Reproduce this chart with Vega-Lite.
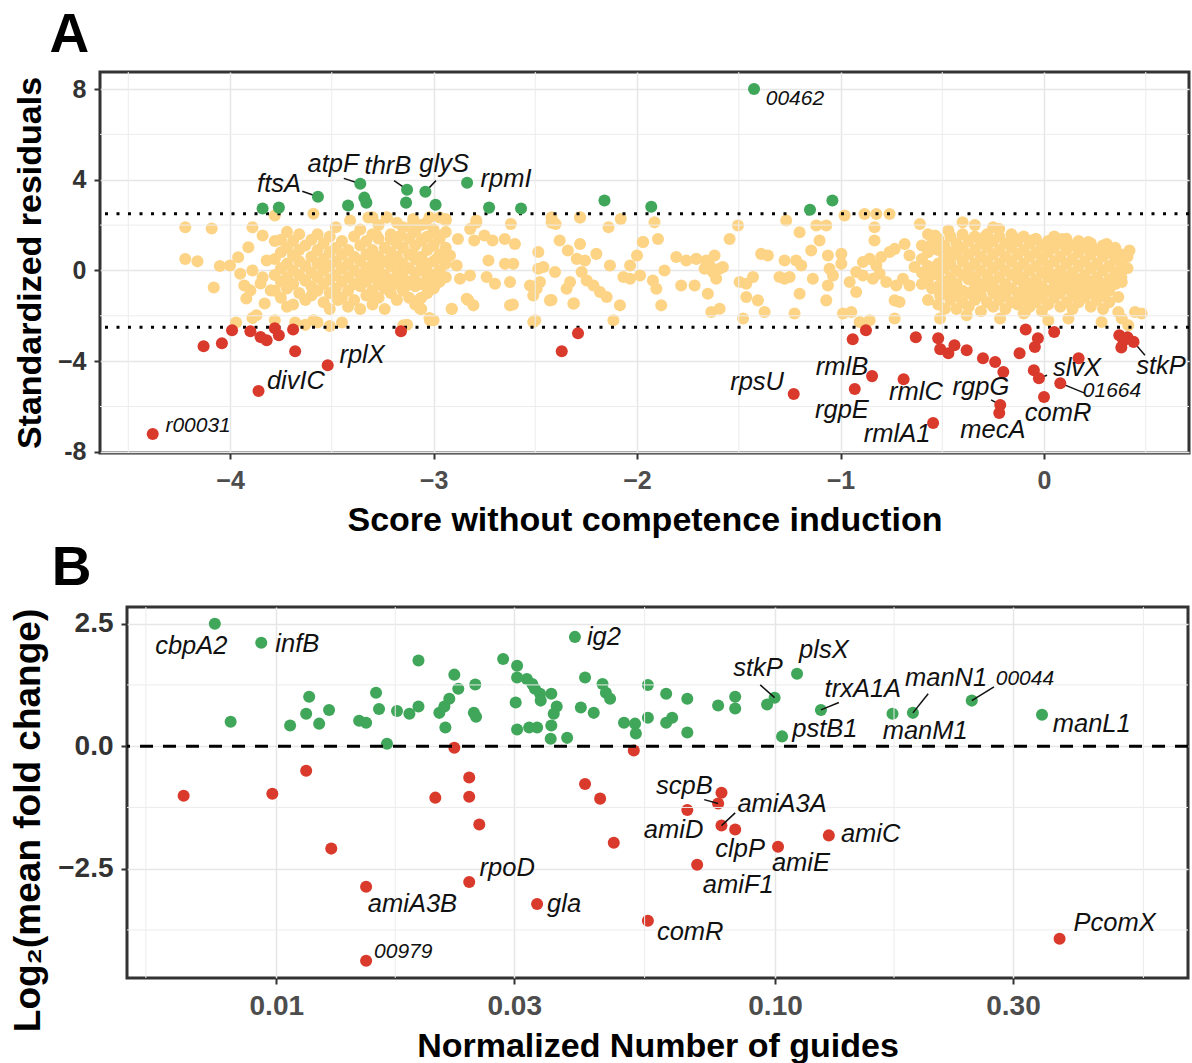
{
"$schema":"https://vega.github.io/schema/vega-lite/v6.json",
"background":"white",
"padding":{"left":4,"top":6,"right":0,"bottom":0},
"config":{
 "font":"Liberation Sans",
 "view":{"stroke":"#333333","strokeWidth":3},
 "axis":{"labelFont":"Liberation Sans","labelFontWeight":"bold","labelFontSize":25,"titleFont":"Liberation Sans","titleFontWeight":"bold","titleFontSize":34,"titleColor":"black","tickColor":"#333333","tickSize":6,"tickWidth":2,"domain":false,"gridColor":"#e6e6e6","gridWidth":1.5},
 "title":{"anchor":"start","frame":"bounds","fontSize":55,"fontWeight":"bold","font":"Liberation Sans","color":"black"}
},
"datasets":{
 "aPts":[
  {"x":-3.568,"y":3.25,"c":"up"},{"x":-3.84,"y":2.73,"c":"up"},{"x":-3.76,"y":2.77,"c":"up"},{"x":-3.36,"y":3.82,"c":"up"},{"x":-3.42,"y":2.86,"c":"up"},{"x":-3.34,"y":3.21,"c":"up"},{"x":-3.33,"y":2.99,"c":"up"},{"x":-3.13,"y":3.56,"c":"up"},{"x":-3.135,"y":2.99,"c":"up"},{"x":-3.04,"y":3.47,"c":"up"},{"x":-2.99,"y":2.9,"c":"up"},{"x":-2.835,"y":3.87,"c":"up"},{"x":-2.727,"y":2.77,"c":"up"},{"x":-2.57,"y":2.73,"c":"up"},{"x":-2.16,"y":3.08,"c":"up"},{"x":-1.93,"y":2.81,"c":"up"},{"x":-1.425,"y":8.0,"c":"up"},{"x":-1.15,"y":2.68,"c":"up"},{"x":-1.04,"y":3.08,"c":"up"},
  {"x":-4.38,"y":-7.21,"c":"down"},{"x":-4.13,"y":-3.34,"c":"down"},{"x":-4.04,"y":-3.21,"c":"down"},{"x":-3.99,"y":-2.64,"c":"down"},{"x":-3.9,"y":-2.68,"c":"down"},{"x":-3.85,"y":-2.94,"c":"down"},{"x":-3.82,"y":-3.08,"c":"down"},{"x":-3.78,"y":-2.55,"c":"down"},{"x":-3.76,"y":-2.86,"c":"down"},{"x":-3.69,"y":-2.6,"c":"down"},{"x":-3.68,"y":-3.56,"c":"down"},{"x":-3.86,"y":-5.32,"c":"down"},{"x":-3.52,"y":-4.18,"c":"down"},{"x":-3.16,"y":-2.68,"c":"down"},{"x":-2.37,"y":-3.56,"c":"down"},{"x":-2.29,"y":-2.77,"c":"down"},
  {"x":-1.23,"y":-5.45,"c":"down"},{"x":-0.94,"y":-3.03,"c":"down"},{"x":-0.875,"y":-2.64,"c":"down"},{"x":-0.845,"y":-4.66,"c":"down"},{"x":-0.93,"y":-5.23,"c":"down"},{"x":-0.69,"y":-4.8,"c":"down"},{"x":-0.545,"y":-6.73,"c":"down"},{"x":-0.63,"y":-2.95,"c":"down"},{"x":-0.52,"y":-2.99,"c":"down"},{"x":-0.51,"y":-3.47,"c":"down"},{"x":-0.47,"y":-3.65,"c":"down"},{"x":-0.44,"y":-3.3,"c":"down"},{"x":-0.38,"y":-3.52,"c":"down"},{"x":-0.3,"y":-3.87,"c":"down"},{"x":-0.24,"y":-4.04,"c":"down"},{"x":-0.2,"y":-4.48,"c":"down"},{"x":-0.215,"y":-5.93,"c":"down"},{"x":-0.22,"y":-6.29,"c":"down"},{"x":-0.12,"y":-3.65,"c":"down"},{"x":-0.09,"y":-2.6,"c":"down"},{"x":-0.045,"y":-3.38,"c":"down"},{"x":-0.03,"y":-2.99,"c":"down"},{"x":-0.05,"y":-4.4,"c":"down"},{"x":-0.025,"y":-4.75,"c":"down"},{"x":0.05,"y":-2.71,"c":"down"},{"x":0.0,"y":-5.58,"c":"down"},{"x":0.08,"y":-4.97,"c":"down"},{"x":0.17,"y":-3.87,"c":"down"},{"x":0.37,"y":-2.86,"c":"down"},{"x":0.39,"y":-3.1,"c":"down"},{"x":0.38,"y":-3.4,"c":"down"},{"x":0.41,"y":-2.95,"c":"down"},{"x":0.44,"y":-3.15,"c":"down"}
 ],
 "aYel":[
  {"x":-4.22,"y":1.9},{"x":-4.09,"y":1.85},{"x":-4.22,"y":0.5},{"x":-4.16,"y":0.4},{"x":-4.08,"y":-0.75},{"x":-4.05,"y":0.2},
  {"x":-4.0,"y":0.22},{"x":-3.96,"y":0.58},{"x":-3.91,"y":1.02},{"x":-3.89,"y":1.9},{"x":-3.84,"y":1.54},{"x":-3.93,"y":-0.66},{"x":-3.92,"y":-1.24},{"x":-3.87,"y":-1.98},{"x":-3.89,"y":0.0},{"x":-3.84,"y":-0.3},{"x":-3.82,"y":0.44},{"x":-3.95,"y":-0.15},{"x":-3.9,"y":-0.88},{"x":-3.85,"y":-0.58},{"x":-3.8,"y":-0.88},{"x":-3.83,"y":-1.46},
  {"x":-3.97,"y":-2.3},{"x":-3.89,"y":-2.1},{"x":-3.78,"y":-2.2},{"x":-3.68,"y":-2.3},{"x":-3.59,"y":-2.2},{"x":-3.51,"y":-2.45},{"x":-3.45,"y":-2.3},{"x":-3.13,"y":-2.4},{"x":-3.02,"y":-2.1},{"x":-2.5,"y":-2.2},
  {"x":-3.47,"y":-1.3},{"x":-3.36,"y":-1.7},{"x":-3.06,"y":-1.2},{"x":-2.91,"y":-1.7},{"x":-2.83,"y":-1.3},{"x":-2.61,"y":-1.5},{"x":-2.42,"y":-1.3},{"x":-2.31,"y":-1.45},
  {"x":-3.78,"y":2.42},{"x":-3.59,"y":2.5},{"x":-3.41,"y":2.2},{"x":-3.32,"y":2.33},{"x":-3.23,"y":2.33},{"x":-3.1,"y":2.1},{"x":-3.04,"y":2.07},{"x":-2.97,"y":2.33},{"x":-2.94,"y":2.2},{"x":-2.79,"y":2.1},{"x":-2.42,"y":2.1},{"x":-2.28,"y":2.33},
  {"x":-3.78,"y":1.3},{"x":-3.78,"y":0.5},{"x":-3.78,"y":-0.2},{"x":-3.78,"y":-0.9},
  {"x":-3.75,"y":1.35},{"x":-3.75,"y":0.8},{"x":-3.75,"y":0.1},{"x":-3.75,"y":-0.5},{"x":-3.75,"y":-1.2},
  {"x":-3.72,"y":1.7},{"x":-3.72,"y":1.0},{"x":-3.72,"y":0.3},{"x":-3.72,"y":-0.3},{"x":-3.72,"y":-0.8},{"x":-3.72,"y":-1.6},
  {"x":-3.69,"y":1.3},{"x":-3.69,"y":0.66},{"x":-3.69,"y":0.0},{"x":-3.69,"y":-0.6},{"x":-3.69,"y":-1.5},
  {"x":-3.66,"y":1.6},{"x":-3.66,"y":0.9},{"x":-3.66,"y":0.4},{"x":-3.66,"y":-0.2},{"x":-3.66,"y":-1.0},
  {"x":-3.63,"y":1.1},{"x":-3.63,"y":0.2},{"x":-3.63,"y":-0.45},{"x":-3.63,"y":-1.3},{"x":-3.63,"y":-2.4},
  {"x":-3.6,"y":1.35},{"x":-3.6,"y":0.6},{"x":-3.6,"y":-0.1},{"x":-3.6,"y":-0.7},{"x":-3.6,"y":-1.1},
  {"x":-3.57,"y":1.6},{"x":-3.57,"y":0.9},{"x":-3.57,"y":0.3},{"x":-3.57,"y":-0.3},{"x":-3.57,"y":-0.9},{"x":-3.57,"y":-2.3},
  {"x":-3.54,"y":1.2},{"x":-3.54,"y":0.5},{"x":-3.54,"y":0.0},{"x":-3.54,"y":-0.6},{"x":-3.54,"y":-1.4},
  {"x":-3.51,"y":1.5},{"x":-3.51,"y":0.8},{"x":-3.51,"y":0.2},{"x":-3.51,"y":-0.4},{"x":-3.51,"y":-1.0},{"x":-3.51,"y":-1.7},
  {"x":-3.48,"y":1.9},{"x":-3.48,"y":1.0},{"x":-3.48,"y":0.4},{"x":-3.48,"y":-0.2},{"x":-3.48,"y":-0.8},
  {"x":-3.45,"y":1.3},{"x":-3.45,"y":0.7},{"x":-3.45,"y":0.1},{"x":-3.45,"y":-0.5},{"x":-3.45,"y":-1.2},
  {"x":-3.42,"y":0.9},{"x":-3.42,"y":0.3},{"x":-3.42,"y":-0.3},{"x":-3.42,"y":-0.9},{"x":-3.42,"y":-1.6},
  {"x":-3.39,"y":1.5},{"x":-3.39,"y":0.6},{"x":-3.39,"y":0.0},{"x":-3.39,"y":-0.6},{"x":-3.39,"y":-1.3},
  {"x":-3.36,"y":1.8},{"x":-3.36,"y":1.1},{"x":-3.36,"y":0.4},{"x":-3.36,"y":-0.2},{"x":-3.36,"y":-0.7},
  {"x":-3.33,"y":1.3},{"x":-3.33,"y":0.7},{"x":-3.33,"y":0.1},{"x":-3.33,"y":-0.5},{"x":-3.33,"y":-1.1},
  {"x":-3.3,"y":1.6},{"x":-3.3,"y":0.9},{"x":-3.3,"y":0.3},{"x":-3.3,"y":-0.3},{"x":-3.3,"y":-0.9},{"x":-3.3,"y":-1.5},
  {"x":-3.27,"y":2.0},{"x":-3.27,"y":1.4},{"x":-3.27,"y":0.6},{"x":-3.27,"y":0.0},{"x":-3.27,"y":-0.6},{"x":-3.27,"y":-1.2},
  {"x":-3.24,"y":1.0},{"x":-3.24,"y":0.4},{"x":-3.24,"y":-0.2},{"x":-3.24,"y":-0.8},{"x":-3.24,"y":-1.7},
  {"x":-3.21,"y":1.6},{"x":-3.21,"y":0.8},{"x":-3.21,"y":0.2},{"x":-3.21,"y":-0.4},{"x":-3.21,"y":-1.0},
  {"x":-3.18,"y":2.1},{"x":-3.18,"y":1.2},{"x":-3.18,"y":0.6},{"x":-3.18,"y":0.0},{"x":-3.18,"y":-0.6},{"x":-3.18,"y":-1.3},
  {"x":-3.15,"y":1.9},{"x":-3.15,"y":1.0},{"x":-3.15,"y":0.3},{"x":-3.15,"y":-0.3},{"x":-3.15,"y":-0.9},
  {"x":-3.12,"y":1.4},{"x":-3.12,"y":0.7},{"x":-3.12,"y":0.1},{"x":-3.12,"y":-0.5},{"x":-3.12,"y":-1.2},
  {"x":-3.09,"y":1.7},{"x":-3.09,"y":1.1},{"x":-3.09,"y":0.5},{"x":-3.09,"y":-0.1},{"x":-3.09,"y":-0.7},{"x":-3.09,"y":-1.5},
  {"x":-3.06,"y":2.0},{"x":-3.06,"y":1.3},{"x":-3.06,"y":0.6},{"x":-3.06,"y":0.0},{"x":-3.06,"y":-0.6},{"x":-3.06,"y":-1.7},
  {"x":-3.03,"y":1.5},{"x":-3.03,"y":0.9},{"x":-3.03,"y":0.3},{"x":-3.03,"y":-0.3},{"x":-3.03,"y":-1.0},
  {"x":-3.0,"y":1.8},{"x":-3.0,"y":1.1},{"x":-3.0,"y":0.4},{"x":-3.0,"y":-0.2},{"x":-3.0,"y":-0.8},{"x":-3.0,"y":-2.2},
  {"x":-2.97,"y":1.4},{"x":-2.97,"y":0.7},{"x":-2.97,"y":0.0},{"x":-2.97,"y":-0.5},
  {"x":-2.94,"y":1.0},{"x":-2.94,"y":0.3},{"x":-2.94,"y":-0.3},
  {"x":-3.3,"y":2.34},{"x":-3.23,"y":2.34},{"x":-3.1,"y":2.27},{"x":-3.02,"y":2.34},{"x":-2.94,"y":2.27},{"x":-2.79,"y":2.2},{"x":-2.62,"y":2.05},{"x":-2.42,"y":2.34},{"x":-2.4,"y":2.05},{"x":-2.28,"y":2.34},{"x":-2.14,"y":1.9},{"x":-2.08,"y":2.27},
  {"x":-3.28,"y":1.54},{"x":-3.21,"y":1.39},{"x":-3.16,"y":1.54},{"x":-3.1,"y":1.69},{"x":-3.05,"y":1.39},{"x":-2.98,"y":1.54},{"x":-2.94,"y":1.69},{"x":-2.88,"y":1.39},{"x":-2.82,"y":1.83},{"x":-2.8,"y":1.32},{"x":-2.75,"y":1.54},{"x":-2.71,"y":1.32},{"x":-2.65,"y":1.39},{"x":-2.6,"y":1.17},{"x":-2.38,"y":1.32},{"x":-2.34,"y":0.88},{"x":-2.28,"y":1.17},{"x":-2.2,"y":0.73},{"x":-2.0,"y":0.66},{"x":-1.97,"y":1.25},
  {"x":-3.296,"y":0.66},{"x":-3.246,"y":0.37},{"x":-3.197,"y":0.51},{"x":-3.148,"y":0.22},{"x":-3.099,"y":0.66},{"x":-3.066,"y":0.37},{"x":-3.034,"y":0.07},{"x":-2.984,"y":0.51},{"x":-2.919,"y":0.66},{"x":-2.886,"y":0.22},{"x":-2.73,"y":0.44},{"x":-2.649,"y":0.29},{"x":-2.608,"y":0.29},{"x":-2.485,"y":0.81},{"x":-2.485,"y":0.07},{"x":-2.46,"y":0.15},{"x":-2.403,"y":-0.07},{"x":-2.296,"y":0.51},{"x":-2.256,"y":0.44},{"x":-2.272,"y":-0.07},{"x":-2.133,"y":0.22},{"x":-2.067,"y":-0.29},{"x":-2.034,"y":0.22},{"x":-1.985,"y":-0.22},
  {"x":-3.312,"y":-0.22},{"x":-3.263,"y":-0.51},{"x":-3.214,"y":-0.66},{"x":-3.165,"y":-0.37},{"x":-3.132,"y":-0.66},{"x":-3.083,"y":-0.51},{"x":-3.034,"y":-0.66},{"x":-2.993,"y":-0.66},{"x":-2.87,"y":-0.37},{"x":-2.821,"y":-0.22},{"x":-2.739,"y":-0.29},{"x":-2.698,"y":-0.59},{"x":-2.624,"y":-0.51},{"x":-2.526,"y":-0.66},{"x":-2.51,"y":-1.1},{"x":-2.493,"y":-0.81},{"x":-2.477,"y":-0.51},{"x":-2.346,"y":-0.81},{"x":-2.329,"y":-0.51},{"x":-2.247,"y":-0.44},{"x":-2.214,"y":-0.66},{"x":-2.182,"y":-0.95},{"x":-2.149,"y":-1.17},{"x":-2.034,"y":-0.37},
  {"x":-3.312,"y":-1.1},{"x":-3.066,"y":-1.25},{"x":-3.066,"y":-1.69},{"x":-2.911,"y":-1.69},{"x":-2.837,"y":-1.25},{"x":-2.804,"y":-1.54},{"x":-2.624,"y":-1.54},{"x":-2.51,"y":-2.27},{"x":-2.428,"y":-1.32},{"x":-2.313,"y":-1.47},{"x":-2.084,"y":-1.54},{"x":-2.116,"y":-2.2},{"x":-3.017,"y":-2.2},{"x":-3.148,"y":-2.42},
  {"x":-1.914,"y":2.12},{"x":-1.897,"y":1.39},{"x":-1.971,"y":1.25},{"x":-1.865,"y":0.0},{"x":-1.922,"y":-0.44},{"x":-1.905,"y":-0.81},{"x":-1.881,"y":-1.54},{"x":-1.807,"y":0.59},{"x":-1.758,"y":0.44},{"x":-1.709,"y":0.51},{"x":-1.66,"y":0.44},{"x":-1.783,"y":-0.66},{"x":-1.717,"y":-0.66},{"x":-1.668,"y":0.07},{"x":-1.643,"y":0.22},{"x":-1.619,"y":0.66},{"x":-1.594,"y":0.07},{"x":-1.652,"y":-1.03},{"x":-1.635,"y":-1.83},{"x":-1.594,"y":-1.69},{"x":-1.627,"y":-0.07},{"x":-1.611,"y":-0.37},{"x":-1.578,"y":0.15},{"x":-1.545,"y":1.39},{"x":-1.504,"y":1.98},{"x":-1.496,"y":-0.51},{"x":-1.463,"y":-0.59},{"x":-1.43,"y":-0.29},{"x":-1.479,"y":-2.12},{"x":-1.463,"y":-1.17},{"x":-1.406,"y":-1.32},{"x":-1.373,"y":-1.83},{"x":-1.39,"y":0.73},{"x":-1.357,"y":0.66},{"x":-1.3,"y":-0.29},{"x":-1.275,"y":-0.37},{"x":-1.25,"y":-0.29},{"x":-1.275,"y":0.44},{"x":-1.218,"y":0.44},{"x":-1.193,"y":0.22},{"x":-1.267,"y":2.2},{"x":-1.201,"y":1.68},{"x":-1.226,"y":-1.9},{"x":-1.201,"y":-1.03},{"x":-1.144,"y":0.88},{"x":-1.103,"y":1.32},{"x":-1.119,"y":1.98},{"x":-1.07,"y":1.98},{"x":-1.062,"y":0.66},{"x":-1.136,"y":-0.37},{"x":-1.07,"y":-1.32},{"x":-1.054,"y":0.07},{"x":-1.037,"y":-0.22},{"x":-1.062,"y":-0.66},{"x":-0.996,"y":0.73},{"x":-0.996,"y":0.29},{"x":-0.98,"y":2.42},{"x":-0.988,"y":-1.9},{"x":-0.947,"y":-1.83},{"x":-0.955,"y":-0.51},{"x":-0.923,"y":-0.95},{"x":-0.882,"y":2.49},{"x":-0.824,"y":2.49},{"x":-0.759,"y":2.49},{"x":-0.833,"y":1.9},{"x":-0.833,"y":1.32},
  {"x":-0.923,"y":-0.07},{"x":-0.89,"y":0.37},{"x":-0.857,"y":0.51},{"x":-0.824,"y":0.22},{"x":-0.8,"y":0.59},{"x":-0.759,"y":0.81},{"x":-0.734,"y":0.95},{"x":-0.685,"y":1.17},{"x":-0.661,"y":0.66},{"x":-0.636,"y":0.15},{"x":-0.89,"y":-0.22},{"x":-0.841,"y":-0.37},{"x":-0.808,"y":-0.15},{"x":-0.775,"y":-0.51},{"x":-0.726,"y":-0.66},{"x":-0.693,"y":-0.37},{"x":-0.661,"y":-0.66},{"x":-0.734,"y":-1.32},{"x":-0.71,"y":-1.39},{"x":-0.734,"y":-2.12},{"x":-0.906,"y":-2.27},{"x":-0.857,"y":-2.2},
  {"x":-0.61,"y":2.05},{"x":-0.47,"y":1.76},{"x":-0.4,"y":2.12},{"x":-0.22,"y":1.83},{"x":-0.29,"y":1.47},{"x":0.087,"y":1.39},{"x":0.218,"y":1.25},{"x":0.42,"y":0.88},{"x":0.308,"y":1.17},{"x":-0.06,"y":1.32},{"x":-0.14,"y":1.39},{"x":-0.536,"y":1.54},
  {"x":-0.511,"y":-1.1},{"x":-0.446,"y":-0.88},{"x":-0.487,"y":-1.69},{"x":-0.511,"y":-2.12},{"x":-0.38,"y":-1.98},{"x":-0.216,"y":-2.12},{"x":-0.093,"y":-1.83},{"x":0.021,"y":-2.2},{"x":0.12,"y":-2.12},{"x":0.283,"y":-2.27},{"x":0.365,"y":-1.83},{"x":0.382,"y":-0.51},{"x":0.365,"y":-1.17},{"x":0.447,"y":-1.83},{"x":0.48,"y":-1.9},{"x":0.382,"y":-2.12},{"x":0.414,"y":-2.42},
  {"x":-0.6,"y":1.1},{"x":-0.6,"y":0.5},{"x":-0.6,"y":-0.1},{"x":-0.6,"y":-0.6},
  {"x":-0.57,"y":1.6},{"x":-0.57,"y":0.8},{"x":-0.57,"y":0.2},{"x":-0.57,"y":-0.4},{"x":-0.57,"y":-1.3},
  {"x":-0.55,"y":1.2},{"x":-0.55,"y":0.0},{"x":-0.55,"y":-0.8},
  {"x":-0.52,"y":1.4},{"x":-0.52,"y":0.9},{"x":-0.52,"y":0.3},{"x":-0.52,"y":-0.2},{"x":-0.52,"y":-0.7},{"x":-0.52,"y":-1.5},
  {"x":-0.49,"y":1.1},{"x":-0.49,"y":0.6},{"x":-0.49,"y":0.1},{"x":-0.49,"y":-0.5},{"x":-0.49,"y":-1.0},
  {"x":-0.46,"y":1.5},{"x":-0.46,"y":0.8},{"x":-0.46,"y":0.3},{"x":-0.46,"y":-0.3},{"x":-0.46,"y":-0.8},{"x":-0.46,"y":-1.3},
  {"x":-0.43,"y":1.2},{"x":-0.43,"y":0.7},{"x":-0.43,"y":0.0},{"x":-0.43,"y":-0.6},{"x":-0.43,"y":-1.1},{"x":-0.43,"y":-1.7},
  {"x":-0.4,"y":1.6},{"x":-0.4,"y":1.0},{"x":-0.4,"y":0.4},{"x":-0.4,"y":-0.2},{"x":-0.4,"y":-0.9},{"x":-0.4,"y":-1.4},
  {"x":-0.37,"y":1.3},{"x":-0.37,"y":0.7},{"x":-0.37,"y":0.1},{"x":-0.37,"y":-0.4},{"x":-0.37,"y":-1.0},{"x":-0.37,"y":-1.6},
  {"x":-0.34,"y":2.0},{"x":-0.34,"y":1.5},{"x":-0.34,"y":0.9},{"x":-0.34,"y":0.3},{"x":-0.34,"y":-0.3},{"x":-0.34,"y":-0.8},{"x":-0.34,"y":-1.3},
  {"x":-0.31,"y":1.2},{"x":-0.31,"y":0.6},{"x":-0.31,"y":0.0},{"x":-0.31,"y":-0.6},{"x":-0.31,"y":-1.1},{"x":-0.31,"y":-1.8},
  {"x":-0.28,"y":1.6},{"x":-0.28,"y":1.0},{"x":-0.28,"y":0.4},{"x":-0.28,"y":-0.2},{"x":-0.28,"y":-0.7},{"x":-0.28,"y":-1.4},
  {"x":-0.25,"y":1.9},{"x":-0.25,"y":1.3},{"x":-0.25,"y":0.7},{"x":-0.25,"y":0.1},{"x":-0.25,"y":-0.5},{"x":-0.25,"y":-1.0},{"x":-0.25,"y":-1.6},
  {"x":-0.22,"y":1.5},{"x":-0.22,"y":0.9},{"x":-0.22,"y":0.3},{"x":-0.22,"y":-0.3},{"x":-0.22,"y":-0.9},{"x":-0.22,"y":-1.3},
  {"x":-0.19,"y":1.2},{"x":-0.19,"y":0.6},{"x":-0.19,"y":0.0},{"x":-0.19,"y":-0.6},{"x":-0.19,"y":-1.1},{"x":-0.19,"y":-1.7},
  {"x":-0.16,"y":1.6},{"x":-0.16,"y":1.0},{"x":-0.16,"y":0.4},{"x":-0.16,"y":-0.2},{"x":-0.16,"y":-0.8},{"x":-0.16,"y":-1.4},
  {"x":-0.13,"y":1.3},{"x":-0.13,"y":0.7},{"x":-0.13,"y":0.1},{"x":-0.13,"y":-0.4},{"x":-0.13,"y":-1.0},{"x":-0.13,"y":-1.5},
  {"x":-0.1,"y":1.5},{"x":-0.1,"y":0.9},{"x":-0.1,"y":0.3},{"x":-0.1,"y":-0.3},{"x":-0.1,"y":-0.8},{"x":-0.1,"y":-1.3},{"x":-0.1,"y":-1.9},
  {"x":-0.07,"y":1.2},{"x":-0.07,"y":0.6},{"x":-0.07,"y":0.0},{"x":-0.07,"y":-0.6},{"x":-0.07,"y":-1.1},{"x":-0.07,"y":-1.6},
  {"x":-0.04,"y":1.4},{"x":-0.04,"y":0.8},{"x":-0.04,"y":0.2},{"x":-0.04,"y":-0.4},{"x":-0.04,"y":-0.9},{"x":-0.04,"y":-1.4},
  {"x":-0.01,"y":1.1},{"x":-0.01,"y":0.5},{"x":-0.01,"y":-0.1},{"x":-0.01,"y":-0.7},{"x":-0.01,"y":-1.2},{"x":-0.01,"y":-1.8},
  {"x":0.02,"y":1.3},{"x":0.02,"y":0.8},{"x":0.02,"y":0.2},{"x":0.02,"y":-0.3},{"x":0.02,"y":-0.9},{"x":0.02,"y":-1.5},
  {"x":0.05,"y":1.5},{"x":0.05,"y":1.0},{"x":0.05,"y":0.4},{"x":0.05,"y":-0.2},{"x":0.05,"y":-0.7},{"x":0.05,"y":-1.2},
  {"x":0.08,"y":1.2},{"x":0.08,"y":0.6},{"x":0.08,"y":0.0},{"x":0.08,"y":-0.5},{"x":0.08,"y":-1.0},{"x":0.08,"y":-1.6},
  {"x":0.11,"y":1.4},{"x":0.11,"y":0.9},{"x":0.11,"y":0.3},{"x":0.11,"y":-0.3},{"x":0.11,"y":-0.8},{"x":0.11,"y":-1.4},
  {"x":0.14,"y":1.1},{"x":0.14,"y":0.5},{"x":0.14,"y":-0.1},{"x":0.14,"y":-0.6},{"x":0.14,"y":-1.1},{"x":0.14,"y":-1.7},
  {"x":0.17,"y":1.3},{"x":0.17,"y":0.8},{"x":0.17,"y":0.2},{"x":0.17,"y":-0.4},{"x":0.17,"y":-0.9},{"x":0.17,"y":-1.4},
  {"x":0.2,"y":1.0},{"x":0.2,"y":0.4},{"x":0.2,"y":-0.2},{"x":0.2,"y":-0.7},{"x":0.2,"y":-1.2},
  {"x":0.23,"y":1.2},{"x":0.23,"y":0.7},{"x":0.23,"y":0.1},{"x":0.23,"y":-0.5},{"x":0.23,"y":-1.0},{"x":0.23,"y":-1.6},
  {"x":0.26,"y":0.9},{"x":0.26,"y":0.3},{"x":0.26,"y":-0.3},{"x":0.26,"y":-0.8},{"x":0.26,"y":-1.3},
  {"x":0.29,"y":1.1},{"x":0.29,"y":0.6},{"x":0.29,"y":0.0},{"x":0.29,"y":-0.6},{"x":0.29,"y":-1.1},{"x":0.29,"y":-1.7},
  {"x":0.32,"y":0.8},{"x":0.32,"y":0.2},{"x":0.32,"y":-0.4},{"x":0.32,"y":-0.9},{"x":0.32,"y":-1.4},
  {"x":0.35,"y":1.0},{"x":0.35,"y":0.5},{"x":0.35,"y":-0.1},{"x":0.35,"y":-0.6},
  {"x":0.38,"y":0.7},{"x":0.38,"y":0.2},{"x":0.38,"y":-0.3},
  {"x":0.41,"y":0.6},{"x":0.41,"y":0.1}
 ],
 "aLab":[
  {"g":"ftsA","x":-3.759,"y":3.82},{"g":"atpF","x":-3.494,"y":4.7},{"g":"thrB","x":-3.224,"y":4.62},{"g":"glyS","x":-2.948,"y":4.7},{"g":"rpmI","x":-2.644,"y":4.04},{"g":"00462","x":-1.224,"y":7.56},{"g":"r00031","x":-4.157,"y":-6.86},{"g":"divIC","x":-3.676,"y":-4.88},{"g":"rplX","x":-3.351,"y":-3.74},{"g":"rpsU","x":-1.41,"y":-4.92},{"g":"rmlB","x":-0.993,"y":-4.26},{"g":"rgpE","x":-0.993,"y":-6.15},{"g":"rmlC","x":-0.629,"y":-5.36},{"g":"rmlA1","x":-0.722,"y":-7.21},{"g":"rgpG","x":-0.31,"y":-5.14},{"g":"mecA","x":-0.251,"y":-7.03},{"g":"slvX","x":0.162,"y":-4.31},{"g":"comR","x":0.069,"y":-6.29},{"g":"01664","x":0.334,"y":-5.32},{"g":"stkP","x":0.575,"y":-4.22}
 ],
 "aSeg":[
  {"x":-3.645,"y":3.49,"x2":-3.568,"y2":3.25},{"x":-3.441,"y":4.06,"x2":-3.36,"y2":3.82},{"x":-3.194,"y":3.96,"x2":-3.13,"y2":3.56},{"x":-2.988,"y":3.96,"x2":-3.04,"y2":3.47},{"x":-0.26,"y":-5.71,"x2":-0.215,"y2":-5.93},{"x":0.015,"y":-4.62,"x2":-0.025,"y2":-4.75},{"x":0.2,"y":-5.41,"x2":0.08,"y2":-4.97},{"x":0.496,"y":-3.74,"x2":0.44,"y2":-3.15}
 ],
 "bPts":[
  {"x":0.00753,"y":2.5,"c":"up"},{"x":0.0081,"y":0.5,"c":"up"},{"x":0.00933,"y":2.11,"c":"up"},{"x":0.01066,"y":0.42,"c":"up"},{"x":0.01148,"y":0.66,"c":"up"},{"x":0.01164,"y":1.01,"c":"up"},{"x":0.01219,"y":0.46,"c":"up"},{"x":0.01276,"y":0.74,"c":"up"},{"x":0.01466,"y":0.52,"c":"up"},{"x":0.01514,"y":0.48,"c":"up"},{"x":0.01585,"y":1.09,"c":"up"},{"x":0.01607,"y":0.76,"c":"up"},{"x":0.01667,"y":0.05,"c":"up"},{"x":0.01746,"y":0.72,"c":"up"},{"x":0.01849,"y":0.66,"c":"up"},{"x":0.01928,"y":0.81,"c":"up"},{"x":0.01928,"y":1.75,"c":"up"},{"x":0.02123,"y":0.68,"c":"up"},{"x":0.02173,"y":0.81,"c":"up"},{"x":0.02223,"y":0.97,"c":"up"},{"x":0.02183,"y":0.38,"c":"up"},{"x":0.02275,"y":1.46,"c":"up"},{"x":0.02317,"y":1.17,"c":"up"},{"x":0.02506,"y":1.26,"c":"up"},{"x":0.0249,"y":0.68,"c":"up"},{"x":0.02515,"y":0.6,"c":"up"},{"x":0.0285,"y":1.78,"c":"up"},{"x":0.0304,"y":1.64,"c":"up"},{"x":0.0304,"y":1.4,"c":"up"},{"x":0.0302,"y":0.89,"c":"up"},{"x":0.0304,"y":0.34,"c":"up"},{"x":0.03214,"y":0.38,"c":"up"},{"x":0.03334,"y":0.38,"c":"up"},{"x":0.0318,"y":1.37,"c":"up"},{"x":0.0326,"y":1.27,"c":"up"},{"x":0.033,"y":1.17,"c":"up"},{"x":0.0338,"y":1.07,"c":"up"},{"x":0.0339,"y":0.93,"c":"up"},{"x":0.0356,"y":1.07,"c":"up"},{"x":0.0365,"y":0.81,"c":"up"},{"x":0.036,"y":0.66,"c":"up"},{"x":0.0356,"y":0.42,"c":"up"},{"x":0.0355,"y":0.15,"c":"up"},{"x":0.0383,"y":0.17,"c":"up"},{"x":0.0397,"y":2.23,"c":"up"},{"x":0.0416,"y":1.4,"c":"up"},{"x":0.0408,"y":0.79,"c":"up"},{"x":0.0433,"y":0.68,"c":"up"},{"x":0.0451,"y":1.27,"c":"up"},{"x":0.0458,"y":1.09,"c":"up"},{"x":0.0467,"y":0.97,"c":"up"},{"x":0.0498,"y":0.48,"c":"up"},{"x":0.0524,"y":0.46,"c":"up"},{"x":0.0526,"y":0.26,"c":"up"},{"x":0.0556,"y":1.25,"c":"up"},{"x":0.0556,"y":0.58,"c":"up"},{"x":0.0605,"y":1.07,"c":"up"},{"x":0.0605,"y":0.48,"c":"up"},{"x":0.0622,"y":0.58,"c":"up"},{"x":0.0667,"y":0.97,"c":"up"},{"x":0.0667,"y":0.28,"c":"up"},{"x":0.0769,"y":0.83,"c":"up"},{"x":0.0832,"y":1.01,"c":"up"},{"x":0.0832,"y":0.77,"c":"up"},{"x":0.0964,"y":0.85,"c":"up"},{"x":0.0998,"y":0.99,"c":"up"},{"x":0.1107,"y":1.48,"c":"up"},{"x":0.1236,"y":0.74,"c":"up"},{"x":0.1033,"y":0.2,"c":"up"},{"x":0.172,"y":0.66,"c":"up"},{"x":0.189,"y":0.68,"c":"up"},{"x":0.248,"y":0.93,"c":"up"},{"x":0.343,"y":0.64,"c":"up"},
  {"x":0.02275,"y":-0.03,"c":"down"},{"x":0.00652,"y":-1.01,"c":"down"},{"x":0.00982,"y":-0.97,"c":"down"},{"x":0.01148,"y":-0.5,"c":"down"},{"x":0.02084,"y":-1.05,"c":"down"},{"x":0.02437,"y":-0.64,"c":"down"},{"x":0.02437,"y":-1.03,"c":"down"},{"x":0.02553,"y":-1.6,"c":"down"},{"x":0.01289,"y":-2.09,"c":"down"},{"x":0.01514,"y":-2.87,"c":"down"},{"x":0.02437,"y":-2.77,"c":"down"},{"x":0.03334,"y":-3.22,"c":"down"},{"x":0.01514,"y":-4.38,"c":"down"},{"x":0.0416,"y":-0.77,"c":"down"},{"x":0.0446,"y":-1.07,"c":"down"},{"x":0.0475,"y":-1.97,"c":"down"},{"x":0.0556,"y":-3.56,"c":"down"},{"x":0.0521,"y":-0.09,"c":"down"},{"x":0.0667,"y":-1.3,"c":"down"},{"x":0.0781,"y":-0.95,"c":"down"},{"x":0.0769,"y":-1.17,"c":"down"},{"x":0.0781,"y":-1.62,"c":"down"},{"x":0.0832,"y":-1.7,"c":"down"},{"x":0.0698,"y":-2.42,"c":"down"},{"x":0.1014,"y":-2.05,"c":"down"},{"x":0.1282,"y":-1.82,"c":"down"},{"x":0.372,"y":-3.93,"c":"down"}
 ],
 "bLab":[
  {"g":"cbpA2","x":0.006756,"y":2.05},{"g":"infB","x":0.01102,"y":2.09},{"g":"ig2","x":0.04539,"y":2.23},{"g":"stkP","x":0.09247,"y":1.6},{"g":"plsX","x":0.1253,"y":1.97},{"g":"trxA1A","x":0.15,"y":1.17},{"g":"manN1","x":0.2203,"y":1.4},{"g":"00044","x":0.317,"y":1.38},{"g":"manM1","x":0.2,"y":0.3},{"g":"pstB1","x":0.1259,"y":0.36},{"g":"manL1","x":0.4315,"y":0.46},{"g":"scpB","x":0.0658,"y":-0.81},{"g":"amiA3A","x":0.1033,"y":-1.17},{"g":"amiD","x":0.0626,"y":-1.7},{"g":"clpP","x":0.0851,"y":-2.09},{"g":"amiE","x":0.1127,"y":-2.38},{"g":"amiC","x":0.1555,"y":-1.79},{"g":"amiF1","x":0.0844,"y":-2.83},{"g":"rpoD","x":0.02904,"y":-2.48},{"g":"amiA3B","x":0.01875,"y":-3.21},{"g":"gla","x":0.03776,"y":-3.21},{"g":"00979","x":0.01797,"y":-4.19},{"g":"comR","x":0.0676,"y":-3.79},{"g":"PcomX","x":0.4797,"y":-3.6}
 ],
 "bSeg":[
  {"x":0.0934,"y":1.25,"x2":0.0998,"y2":0.99},{"x":0.1343,"y":0.89,"x2":0.1236,"y2":0.74},{"x":0.2028,"y":1.07,"x2":0.189,"y2":0.68},{"x":0.2748,"y":1.21,"x2":0.248,"y2":0.93},{"x":0.0721,"y":-1.09,"x2":0.0769,"y2":-1.17},{"x":0.0832,"y":-1.36,"x2":0.0781,"y2":-1.62}
 ]
},
"spacing":0,
"vconcat":[
 {"spacing":6,"hconcat":[
 {"width":1,"height":1,"data":{"values":[]},"mark":{"type":"point","opacity":0},"view":{"stroke":null}},
 {
  "width":1089,"height":381,
  "title":{"text":"A","dx":36,"offset":8},
  "layer":[
   {"data":{"name":"aYel"},
    "mark":{"type":"circle","size":145,"opacity":1,"color":"#FDD486"},
    "encoding":{
     "x":{"field":"x","type":"quantitative","scale":{"domain":[-4.639,0.7125],"nice":false,"zero":false},
      "axis":{"values":[-4,-3,-2,-1,0],"format":"d","title":"Score without competence induction","labelColor":"#4d4d4d","labelPadding":9,"titlePadding":10,"grid":true}},
     "y":{"field":"y","type":"quantitative","scale":{"domain":[-8.05,8.75],"nice":false,"zero":false},
      "axis":{"values":[-8,-4,0,4,8],"title":"Standardized residuals","labelColor":"#333333","labelExpr":"datum.value == -8 ? '-8' : datum.label","labelPadding":8,"titlePadding":10,"grid":true}}}},
   {"data":{"values":[{"v":-4.5},{"v":-3.5},{"v":-2.5},{"v":-1.5},{"v":-0.5},{"v":0.5}]},
    "mark":{"type":"rule","color":"#ececec","strokeWidth":1},
    "encoding":{"x":{"field":"v","type":"quantitative"}}},
   {"data":{"values":[{"v":-6},{"v":-2},{"v":2},{"v":6}]},
    "mark":{"type":"rule","color":"#ececec","strokeWidth":1},
    "encoding":{"y":{"field":"v","type":"quantitative"}}},
   {"data":{"values":[{"v":2.5},{"v":-2.5}]},
    "mark":{"type":"rule","color":"black","strokeWidth":3,"strokeDash":[3,8.5]},
    "encoding":{"y":{"field":"v","type":"quantitative"}}},
   {"data":{"name":"aSeg"},
    "mark":{"type":"rule","color":"#111111","strokeWidth":1.5},
    "encoding":{"x":{"field":"x","type":"quantitative"},"y":{"field":"y","type":"quantitative"},"x2":{"field":"x2"},"y2":{"field":"y2"}}},
   {"data":{"name":"aPts"},
    "mark":{"type":"circle","size":145,"opacity":1},
    "encoding":{"x":{"field":"x","type":"quantitative"},"y":{"field":"y","type":"quantitative"},
     "color":{"field":"c","type":"nominal","scale":{"domain":["up","down"],"range":["#3FA65A","#D93A2B"]},"legend":null}}},
   {"data":{"name":"aLab"},
    "transform":[{"filter":"!test(regexp('^r?[0-9]+$'), datum.g)"}],
    "mark":{"type":"text","font":"Liberation Sans","fontStyle":"italic","fontSize":25.5,"color":"#111111","align":"center","baseline":"middle"},
    "encoding":{"x":{"field":"x","type":"quantitative"},"y":{"field":"y","type":"quantitative"},"text":{"field":"g"}}},
   {"data":{"name":"aLab"},
    "transform":[{"filter":"test(regexp('^r?[0-9]+$'), datum.g)"}],
    "mark":{"type":"text","font":"Liberation Sans","fontStyle":"italic","fontSize":21,"color":"#111111","align":"center","baseline":"middle"},
    "encoding":{"x":{"field":"x","type":"quantitative"},"y":{"field":"y","type":"quantitative"},"text":{"field":"g"}}}
  ]
 }]},
 {"spacing":3,"hconcat":[
 {"width":1,"height":1,"data":{"values":[]},"mark":{"type":"point","opacity":0},"view":{"stroke":null}},
 {
  "width":1061,"height":371,
  "title":{"text":"B","dx":42,"offset":10},
  "layer":[
   {"data":{"name":"bPts"},
    "mark":{"type":"circle","size":145,"opacity":1},
    "encoding":{
     "x":{"field":"x","type":"quantitative","scale":{"type":"log","domain":[0.00502,0.673],"nice":false},
      "axis":{"values":[0.01,0.03,0.1,0.3],"format":".2f","title":"Normalized Number of guides","labelColor":"#4d4d4d","labelFontSize":28,"labelPadding":8,"titlePadding":9,"grid":true}},
     "y":{"field":"y","type":"quantitative","scale":{"domain":[-4.73,2.84],"nice":false,"zero":false},
      "axis":{"values":[-2.5,0,2.5],"format":".1f","title":"Log₂(mean fold change)","titleFontSize":37,"titleY":213,"labelFontSize":28,"labelColor":"#333333","labelPadding":8,"titlePadding":10,"grid":true}},
     "color":{"field":"c","type":"nominal","scale":{"domain":["up","down"],"range":["#3FA65A","#D93A2B"]},"legend":null}}},
   {"data":{"values":[{"v":0.005477},{"v":0.01732},{"v":0.05477},{"v":0.1732},{"v":0.5477}]},
    "mark":{"type":"rule","color":"#ececec","strokeWidth":1},
    "encoding":{"x":{"field":"v","type":"quantitative"}}},
   {"data":{"values":[{"v":1.25},{"v":-1.25},{"v":-3.75}]},
    "mark":{"type":"rule","color":"#ececec","strokeWidth":1},
    "encoding":{"y":{"field":"v","type":"quantitative"}}},
   {"data":{"values":[{"v":0}]},
    "mark":{"type":"rule","color":"black","strokeWidth":3,"strokeDash":[13,10]},
    "encoding":{"y":{"field":"v","type":"quantitative"}}},
   {"data":{"name":"bSeg"},
    "mark":{"type":"rule","color":"#111111","strokeWidth":1.5},
    "encoding":{"x":{"field":"x","type":"quantitative"},"y":{"field":"y","type":"quantitative"},"x2":{"field":"x2"},"y2":{"field":"y2"}}},
   {"data":{"name":"bLab"},
    "transform":[{"filter":"!test(regexp('^r?[0-9]+$'), datum.g)"}],
    "mark":{"type":"text","font":"Liberation Sans","fontStyle":"italic","fontSize":25.5,"color":"#111111","align":"center","baseline":"middle"},
    "encoding":{"x":{"field":"x","type":"quantitative"},"y":{"field":"y","type":"quantitative"},"text":{"field":"g"}}},
   {"data":{"name":"bLab"},
    "transform":[{"filter":"test(regexp('^r?[0-9]+$'), datum.g)"}],
    "mark":{"type":"text","font":"Liberation Sans","fontStyle":"italic","fontSize":21,"color":"#111111","align":"center","baseline":"middle"},
    "encoding":{"x":{"field":"x","type":"quantitative"},"y":{"field":"y","type":"quantitative"},"text":{"field":"g"}}}
  ]
 }]}
]
}
